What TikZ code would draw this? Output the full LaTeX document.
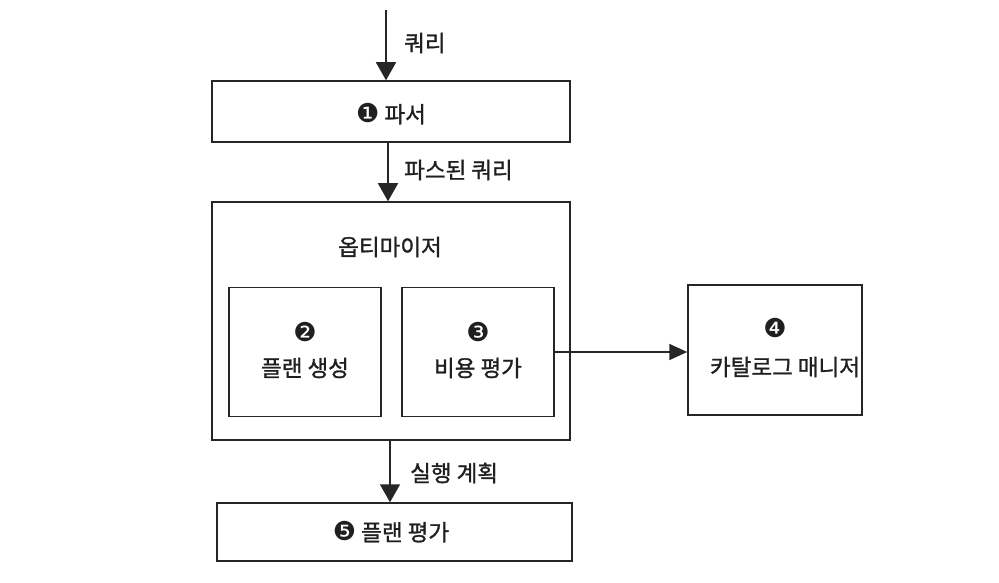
\documentclass[tikz,border=0pt]{standalone}
\usepackage{fontspec}
\setmainfont{Noto Sans CJK KR}[FakeBold=1.2]
\newfontfamily\symfont{DejaVu Sans}
\usetikzlibrary{arrows.meta}
\begin{document}
\begin{tikzpicture}[x=1pt,y=-1pt,
  box/.style={draw=black!85, line width=1.5pt, inner sep=0pt},
  lbl/.style={font=\fontsize{22.5}{24}\selectfont, text=black!88, inner sep=0pt},
  conn/.style={draw=black!85, line width=1.5pt, -{Triangle[width=20pt,length=18pt]}},
  num/.style={font=\symfont\fontsize{26}{27}\selectfont, text=black!88, inner sep=0pt}]
\useasboundingbox (0,0) rectangle (999,583);
\fill[white] (0,0) rectangle (999,583);
% boxes
\node[box, minimum width=358pt, minimum height=61pt] (parser) at (391,111.5) {};
\node[box, minimum width=358pt, minimum height=238pt] (opt) at (391,321) {};
\node[box, minimum width=152pt, minimum height=129pt] (gen) at (305,352) {};
\node[box, minimum width=152pt, minimum height=129pt] (cost) at (478,352) {};
\node[box, minimum width=174pt, minimum height=130pt] (cat) at (775,350) {};
\node[box, minimum width=355pt, minimum height=58pt] (eval) at (394.5,532) {};
% texts
\node[lbl] (t1) at (391,114) {{\symfont\fontsize{26}{27}\selectfont ❶} 파서};
\node[lbl] (topt) at (390,247) {옵티마이저};
\node[num] (n2) at (305,332) {❷};
\node[lbl] (t2) at (305,368) {플랜 생성};
\node[num] (n3) at (478,332) {❸};
\node[lbl] (t3) at (478,368) {비용 평가};
\node[num] (n4) at (775,328) {❹};
\node[lbl] (t4) at (785,367) {카탈로그 매니저};
\node[lbl] (t5) at (391,532) {{\symfont\fontsize{26}{27}\selectfont ❺} 플랜 평가};
% connectors
\coordinate (qin) at (386,10);
\draw[conn] (qin) -- (parser.north -| qin);
\node[lbl, anchor=west] (lq) at (404,43) {쿼리};
\draw[conn] (parser.south -| 388,0) -- (opt.north -| 388,0);
\node[lbl, anchor=west] (lpq) at (404,170) {파스된 쿼리};
\draw[draw=black!85, line width=1.6pt, -{Triangle[width=16pt,length=18pt]}] (cost.east) -- (cost.east -| cat.west);
\draw[conn] (opt.south -| 390,0) -- (eval.north -| 390,0);
\node[lbl, anchor=west] (lplan) at (410,473) {실행 계획};
\end{tikzpicture}
\end{document}
